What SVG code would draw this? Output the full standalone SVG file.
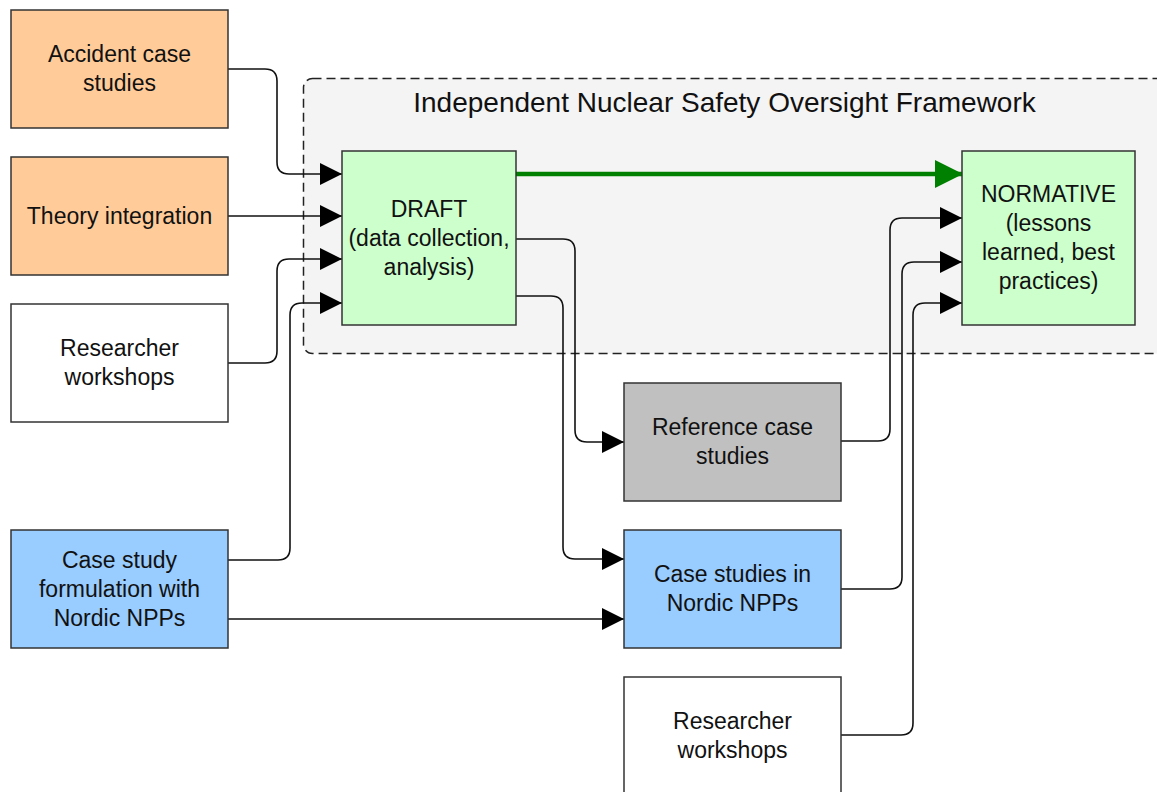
<svg xmlns="http://www.w3.org/2000/svg" width="1157" height="792" viewBox="0 0 1157 792">
<style>
.n{stroke:#333;stroke-width:1.5}
.t{font-family:"Liberation Sans",Arial,sans-serif;font-size:23px;fill:#111;text-anchor:middle}
.c{fill:none;stroke:#111;stroke-width:1.6}
</style>
<defs>
<marker id="a" markerWidth="22" markerHeight="22" viewBox="0 0 22 22" refX="22" refY="11" markerUnits="userSpaceOnUse" orient="auto"><path d="M0,0 L22,11 L0,22 Z" fill="#000"/></marker>
<marker id="g" markerWidth="28" markerHeight="28" viewBox="0 0 28 28" refX="27" refY="14" markerUnits="userSpaceOnUse" orient="auto"><path d="M0,0 L28,14 L0,28 Z" fill="#008000"/></marker>
</defs>
<rect width="1157" height="792" fill="#fff"/>
<g id="container">
<rect x="303.5" y="78.5" width="870" height="275" rx="9" fill="#f4f4f4" stroke="#222" stroke-width="1.5" stroke-dasharray="9,5"/>
<text class="t" x="724.5" y="112" style="font-size:28px">Independent Nuclear Safety Oversight Framework</text>
</g>
<g id="connectors">
<path class="c" d="M228,69 H265 Q277,69 277,81 V162 Q277,174 289,174 H342" marker-end="url(#a)"/>
<path class="c" d="M228,216 H342" marker-end="url(#a)"/>
<path class="c" d="M228,363 H265 Q277,363 277,351 V271 Q277,259 289,259 H342" marker-end="url(#a)"/>
<path class="c" d="M228,560 H278 Q290,560 290,548 V315 Q290,303 302,303 H342" marker-end="url(#a)"/>
<path class="c" d="M228,619 H624" marker-end="url(#a)"/>
<path class="c" d="M516,239 H563 Q575,239 575,251 V430 Q575,442 587,442 H624" marker-end="url(#a)"/>
<path class="c" d="M516,296 H551 Q563,296 563,308 V547 Q563,559 575,559 H624" marker-end="url(#a)"/>
<path d="M516,174 H962" fill="none" stroke="#008000" stroke-width="4.5" marker-end="url(#g)"/>
<path class="c" d="M841,441 H878 Q890,441 890,429 V230 Q890,218 902,218 H962" marker-end="url(#a)"/>
<path class="c" d="M841,589 H890 Q902,589 902,577 V274 Q902,262 914,262 H962" marker-end="url(#a)"/>
<path class="c" d="M841,735 H901 Q913,735 913,723 V315 Q913,303 925,303 H962" marker-end="url(#a)"/>
</g>
<g id="accident">
<rect class="n" x="11" y="10" width="217" height="118" fill="#ffcc99"/>
<text class="t" x="119.5" y="62">Accident case</text>
<text class="t" x="119.5" y="91">studies</text>
</g>
<g id="theory">
<rect class="n" x="11" y="157" width="217" height="118" fill="#ffcc99"/>
<text class="t" x="119.5" y="224">Theory integration</text>
</g>
<g id="workshops1">
<rect class="n" x="11" y="304" width="217" height="118" fill="#fff"/>
<text class="t" x="119.5" y="356">Researcher</text>
<text class="t" x="119.5" y="385">workshops</text>
</g>
<g id="formulation">
<rect class="n" x="11" y="530" width="217" height="118" fill="#99ccff"/>
<text class="t" x="119.5" y="568">Case study</text>
<text class="t" x="119.5" y="597">formulation with</text>
<text class="t" x="119.5" y="626">Nordic NPPs</text>
</g>
<g id="draft">
<rect class="n" x="342" y="151" width="174" height="174" fill="#ccffcc"/>
<text class="t" x="429" y="217">DRAFT</text>
<text class="t" x="429" y="246">(data collection,</text>
<text class="t" x="429" y="275">analysis)</text>
</g>
<g id="normative">
<rect class="n" x="962" y="151" width="173" height="174" fill="#ccffcc"/>
<text class="t" x="1048.5" y="202">NORMATIVE</text>
<text class="t" x="1048.5" y="231">(lessons</text>
<text class="t" x="1048.5" y="260">learned, best</text>
<text class="t" x="1048.5" y="289">practices)</text>
</g>
<g id="reference">
<rect class="n" x="624" y="383" width="217" height="118" fill="#c0c0c0"/>
<text class="t" x="732.5" y="435">Reference case</text>
<text class="t" x="732.5" y="464">studies</text>
</g>
<g id="nordic">
<rect class="n" x="624" y="530" width="217" height="118" fill="#99ccff"/>
<text class="t" x="732.5" y="582">Case studies in</text>
<text class="t" x="732.5" y="611">Nordic NPPs</text>
</g>
<g id="workshops2">
<rect class="n" x="624" y="677" width="217" height="130" fill="#fff"/>
<text class="t" x="732.5" y="729">Researcher</text>
<text class="t" x="732.5" y="758">workshops</text>
</g>
</svg>
